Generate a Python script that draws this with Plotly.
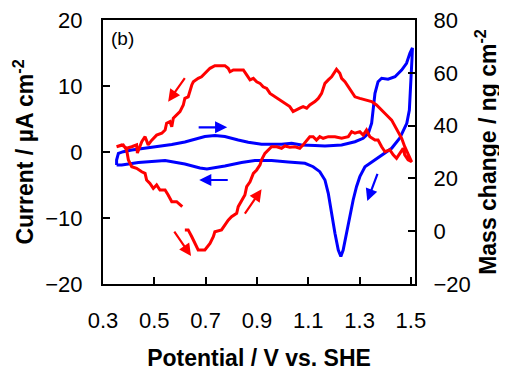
import plotly.graph_objects as go

# ---- Data ----
# Cyclic voltammogram (current, left axis)
cv_potential = [0.353, 0.353, 0.360, 0.379, 0.412, 0.464, 0.515, 0.568, 0.619, 0.658,
                0.697, 0.736, 0.775, 0.827, 0.866, 0.918, 0.996, 1.035, 1.074, 1.126,
                1.165, 1.230, 1.282, 1.314, 1.334, 1.347, 1.353, 1.360, 1.372, 1.386,
                1.411, 1.438, 1.464, 1.483, 1.496, 1.506, 1.504, 1.498, 1.494, 1.484,
                1.470, 1.457, 1.425, 1.386, 1.347, 1.321, 1.301, 1.288, 1.275, 1.262,
                1.249, 1.236, 1.227, 1.217, 1.204, 1.191, 1.178, 1.165, 1.145, 1.119,
                1.087, 1.022, 0.957, 0.892, 0.840, 0.775, 0.705, 0.678, 0.619, 0.542,
                0.438, 0.373, 0.353]
cv_current = [-1.97, -1.21, -0.20, 0.05, 0.30, 0.56, 0.80, 1.14, 1.52, 1.97,
              2.35, 2.50, 2.35, 1.82, 1.47, 1.17, 1.17, 1.32, 1.06, 0.98,
              0.91, 1.06, 1.56, 2.08, 2.83, 4.35, 6.36, 8.90, 10.65, 11.17,
              11.02, 11.41, 12.42, 13.44, 14.95, 15.76, 13.94, 10.41, 6.36, 4.35,
              3.08, 2.12, 0.56, -0.45, -1.47, -2.23, -3.74, -5.26, -7.27, -9.80,
              -12.32, -14.85, -15.83, -14.85, -12.32, -9.29, -6.26, -4.24, -2.98, -2.23,
              -1.71, -1.52, -1.29, -1.29, -1.59, -2.12, -2.58, -2.42, -1.82, -1.29,
              -1.59, -1.97, -1.97]

# Mass change (right axis)
mass_potential = [0.619, 0.632, 0.646, 0.658, 0.671, 0.697, 0.717, 0.730, 0.736, 0.762,
                  0.775, 0.788, 0.801, 0.821, 0.827, 0.840, 0.853, 0.860, 0.873, 0.886,
                  0.899, 0.912, 0.918, 0.931, 0.944, 0.957, 0.977, 0.996, 1.009, 1.028,
                  1.048, 1.067, 1.080, 1.094, 1.106, 1.119, 1.132, 1.145, 1.158, 1.178,
                  1.204, 1.230, 1.256, 1.269, 1.282, 1.301, 1.314, 1.327, 1.340, 1.360,
                  1.372, 1.386, 1.399, 1.418, 1.431, 1.444, 1.457, 1.470, 1.476, 1.489,
                  1.503,
                  1.483, 1.476, 1.464, 1.450, 1.438, 1.425, 1.405, 1.386, 1.366, 1.347,
                  1.321, 1.301, 1.282, 1.269, 1.256, 1.243, 1.230, 1.223, 1.210, 1.204,
                  1.191, 1.178, 1.165, 1.152, 1.139, 1.126, 1.106, 1.094, 1.080, 1.067,
                  1.055, 1.041, 1.028, 1.009, 0.990, 0.970, 0.951, 0.938, 0.924, 0.912,
                  0.899, 0.886, 0.873, 0.860, 0.847, 0.827, 0.808, 0.795, 0.788, 0.775,
                  0.736, 0.717, 0.697, 0.684, 0.671, 0.652, 0.646, 0.639, 0.632, 0.619,
                  0.613, 0.600, 0.587, 0.574, 0.568, 0.561, 0.548, 0.542, 0.529, 0.509,
                  0.490, 0.476, 0.464, 0.451, 0.434, 0.431, 0.412, 0.392, 0.373, 0.353,
                  0.379, 0.392, 0.399, 0.412, 0.431, 0.451, 0.464, 0.470, 0.483, 0.496,
                  0.509, 0.522, 0.542, 0.554, 0.568, 0.587, 0.600, 0.609]
mass_change = [0.5, 0.5, -2.1, -4.6, -7.1, -7.1, -4.6, -2.1, -0.2, 0.5,
               2.3, 4.2, 5.5, 6.8, 9.3, 11.8, 13.7, 16.9, 18.7, 21.9,
               23.2, 25.1, 27.0, 29.5, 30.8, 32.0, 32.0, 31.4, 32.3, 31.8,
               32.0, 31.4, 32.7, 34.5, 35.8, 35.8, 34.5, 35.8, 35.2, 35.8,
               35.8, 35.2, 35.8, 37.7, 37.1, 37.7, 36.4, 38.3, 35.8, 34.5,
               34.5, 32.0, 30.1, 30.8, 28.9, 27.6, 29.5, 31.4, 28.9, 27.0,
               26.3,
               30.1, 32.0, 35.2, 37.7, 40.2, 42.1, 44.0, 45.9, 47.8, 49.1,
               49.7, 50.3, 50.9, 52.8, 54.7, 56.6, 57.9, 59.8, 61.3, 60.4,
               58.5, 57.3, 56.0, 52.2, 50.3, 49.1, 47.8, 46.6, 47.2, 46.6,
               45.9, 45.3, 47.2, 48.4, 49.7, 50.9, 52.2, 54.1, 54.7, 56.0,
               56.6, 57.9, 57.3, 59.2, 61.1, 61.1, 61.1, 60.4, 61.7, 62.7,
               62.7, 61.7, 59.8, 58.5, 57.9, 56.6, 55.4, 53.5, 50.9, 50.3,
               47.8, 45.3, 44.0, 42.8, 39.6, 41.5, 40.9, 38.3, 37.1, 36.4,
               34.5, 32.7, 35.8, 33.9, 29.6, 32.7, 32.0, 31.4, 32.7, 32.0,
               32.7, 30.8, 27.0, 24.4, 23.8, 22.5, 21.9, 19.4, 18.1, 16.2,
               17.5, 15.6, 15.6, 13.7, 11.2, 11.2, 9.9, 9.3]

x_ticks = [0.3, 0.5, 0.7, 0.9, 1.1, 1.3, 1.5]
x_tick_labels = ["0.3", "0.5", "0.7", "0.9", "1.1", "1.3", "1.5"]
y_ticks = [-20, -10, 0, 10, 20]
y2_ticks = [-20, 0, 20, 40, 60, 80]

# Direction arrows: (tail_x, tail_y, head_x, head_y, colour) in current-axis units
arrows = [
    (0.623, 11.41, 0.554, 7.62, "#FF0000"),
    (0.574, -11.82, 0.643, -15.76, "#FF0000"),
    (0.849, -9.55, 0.918, -5.65, "#FF0000"),
    (0.667, 3.74, 0.784, 3.74, "#0000FF"),
    (0.792, -4.24, 0.675, -4.24, "#0000FF"),
    (1.372, -3.08, 1.330, -7.42, "#0000FF"),
]

FONT = "Liberation Sans, Arial, sans-serif"
TICK_SIZE = 22
TITLE_SIZE = 23

fig = go.Figure()
fig.add_trace(go.Scatter(x=cv_potential, y=cv_current, mode="lines",
                         line=dict(color="#0000FF", width=3), yaxis="y",
                         showlegend=False))
fig.add_trace(go.Scatter(x=mass_potential, y=mass_change, mode="lines",
                         line=dict(color="#FF0000", width=3), yaxis="y2",
                         showlegend=False))

annotations = []
for tx, ty, hx, hy, col in arrows:
    annotations.append(dict(x=hx, y=hy, ax=tx, ay=ty, xref="x", yref="y",
                            axref="x", ayref="y", text="", showarrow=True,
                            arrowhead=2, arrowsize=1.1, arrowwidth=2.2,
                            arrowcolor=col))
annotations.append(dict(x=0.018, y=0.977, xref="paper", yref="paper",
                        text="(b)", showarrow=False, xanchor="left", yanchor="top",
                        font=dict(family=FONT, size=19, color="black")))

# the page body adds an 8px offset, so margins are shifted to compensate
fig.update_layout(
    width=507, height=371,
    margin=dict(l=95, r=100, t=12, b=95),
    paper_bgcolor="white", plot_bgcolor="white",
    font=dict(family=FONT, color="black"),
    xaxis=dict(range=[0.3, 1.516], tickvals=x_ticks, ticktext=x_tick_labels,
               ticks="inside", ticklen=7, tickwidth=2, tickcolor="black",
               showline=True, linecolor="black", linewidth=2, mirror=True,
               showgrid=False, zeroline=False, automargin=False,
               ticklabeloverflow="allow",
               tickfont=dict(family=FONT, size=TICK_SIZE),
               ticklabelstandoff=16,
               title=dict(text="<b>Potential / V vs. SHE</b>",
                          font=dict(family=FONT, size=TITLE_SIZE), standoff=17)),
    yaxis=dict(range=[-20, 20], tickvals=y_ticks,
               ticks="inside", ticklen=7, tickwidth=2, tickcolor="black",
               showline=True, linecolor="black", linewidth=2, mirror=False,
               showgrid=False, zeroline=False, automargin=False,
               ticklabeloverflow="allow",
               tickfont=dict(family=FONT, size=TICK_SIZE),
               ticklabelstandoff=14,
               title=dict(text="<b>Current / \u00b5A cm<sup>-2</sup></b>",
                          font=dict(family=FONT, size=TITLE_SIZE), standoff=5)),
    yaxis2=dict(range=[-20, 80], tickvals=y2_ticks, overlaying="y", side="right",
                ticks="inside", ticklen=7, tickwidth=2, tickcolor="black",
                showline=True, linecolor="black", linewidth=2,
                showgrid=False, zeroline=False, automargin=False,
                ticklabeloverflow="allow",
                tickfont=dict(family=FONT, size=TICK_SIZE),
                ticklabelstandoff=12,
                title=dict(text="<b>Mass change / ng cm<sup>-2</sup></b>",
                           font=dict(family=FONT, size=TITLE_SIZE), standoff=10)),
    annotations=annotations,
)

fig.write_html("out.html")
